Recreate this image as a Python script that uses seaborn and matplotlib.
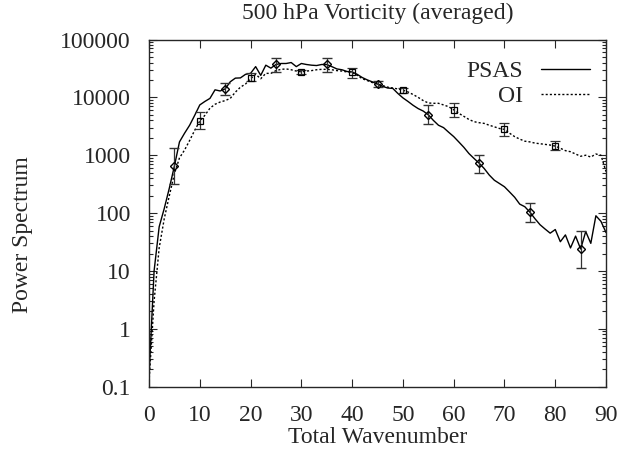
import numpy as np
import pandas as pd
import matplotlib
matplotlib.use('Agg')
import matplotlib.pyplot as plt
import matplotlib.ticker as mticker
import seaborn as sns

# wavenumber 0..90
wavenumber = list(range(91))

psas = [0.15, 10, 58, 120, 270, 650, 1700, 2400, 3300, 4900,
        7400, 8500, 9600, 13500, 12900, 14000, 18600, 21500, 21700, 25000,
        26000, 34000, 24000, 36000, 32000, 37000, 38500, 38500, 40000, 34000,
        38500, 37000, 36000, 35500, 37000, 37000, 34000, 31000, 30000, 28000,
        27500, 25000, 22000, 20000, 18500, 17000, 15500, 14500, 14300, 11700,
        9800, 8500, 7300, 6400, 5800, 5000, 4000, 3300, 3000, 2500,
        2100, 1700, 1370, 1070, 880, 730, 590, 455, 370, 325,
        285, 232, 188, 143, 129, 104, 80, 63, 53, 45,
        52, 32, 42, 25, 40, 24, 48, 30, 90, 72,
        46]

oi = [0.12, 3, 25, 80, 200, 480, 900, 1230, 1800, 2700,
      3900, 4900, 6500, 7600, 8300, 8800, 9600, 12300, 15000, 17000,
      21000, 25000, 21000, 26000, 26000, 29000, 30500, 31000, 30000, 28500,
      27500, 28500, 29000, 30000, 30500, 30500, 30000, 29000, 28500, 27500,
      27000, 24000, 21000, 19500, 18000, 17000, 16000, 15000, 14500, 14000,
      13300, 12400, 11200, 10000, 8800, 8000, 7900, 7900, 7400, 6900,
      6100, 5300, 4700, 4150, 3800, 3650, 3550, 3300, 3100, 2900,
      2800, 2400, 2100, 1900, 1750, 1700, 1620, 1580, 1540, 1500,
      1440, 1320, 1200, 1150, 1050, 960, 1000, 930, 1050, 1000,
      520]

# points with error bars
psas_k = [5, 15, 25, 35, 45, 55, 65, 75, 85]
psas_pt = [650, 14000, 37000, 37000, 17000, 5000, 730, 104, 24]
psas_hi = [1360, 17400, 47000, 48000, 19000, 7300, 1020, 148, 49]
psas_lo = [315, 11200, 27000, 27000, 14900, 3450, 500, 69, 11.4]

oi_k = [10, 20, 30, 40, 50, 60, 70, 80]
oi_pt = [3900, 22000, 27500, 27000, 13300, 6100, 2800, 1440]
oi_hi = [5500, 26000, 29500, 32000, 14800, 8000, 3650, 1750]
oi_lo = [2800, 19000, 25500, 21500, 12000, 4500, 2150, 1230]

yticks = [0.1, 1, 10, 100, 1000, 10000, 100000]
ytick_labels = ['0.1', '1', '10', '100', '1000', '10000', '100000']
xticks = [0, 10, 20, 30, 40, 50, 60, 70, 80, 90]

sns.set_style('ticks')
plt.rcParams['font.family'] = ['Liberation Serif', 'DejaVu Serif']
plt.rcParams['font.size'] = 17

df = pd.DataFrame({'k': wavenumber, 'PSAS': psas, 'OI': oi})

fig = plt.figure(figsize=(6.29, 4.51), dpi=100)
ax = fig.add_axes([0.2369, 0.1426, 0.7266, 0.7698])

sns.lineplot(data=df, x='k', y='PSAS', ax=ax, color='black', lw=1.0, label='PSAS')
sns.lineplot(data=df, x='k', y='OI', ax=ax, color='black', lw=1.0,
             linestyle=(0, (1.5, 1.5)), label='OI')

pt = np.array(psas_pt)
ax.errorbar(psas_k, pt, yerr=[pt - np.array(psas_lo), np.array(psas_hi) - pt],
            fmt='D', ms=4.5, mfc='none', mec='black', mew=1.0,
            ecolor='#333333', elinewidth=0.9, capsize=3.5, capthick=0.9)
pt = np.array(oi_pt)
ax.errorbar(oi_k, pt, yerr=[pt - np.array(oi_lo), np.array(oi_hi) - pt],
            fmt='s', ms=5, mfc='none', mec='black', mew=0.9,
            ecolor='#333333', elinewidth=0.9, capsize=3.5, capthick=0.9)

ax.set_yscale('log')
ax.set_xlim(0, 90)
ax.set_ylim(0.1, 100000)
ax.set_xticks(xticks)
ax.set_xticklabels([str(x) for x in xticks])
ax.yaxis.set_major_locator(mticker.FixedLocator(yticks))
ax.yaxis.set_major_formatter(mticker.FixedFormatter(ytick_labels))
ax.yaxis.set_minor_locator(mticker.LogLocator(base=10, subs=np.arange(2, 10)))
ax.yaxis.set_minor_formatter(mticker.NullFormatter())
ax.tick_params(which='both', direction='in', top=True, right=True, width=0.8)
ax.tick_params(which='major', length=6, labelsize=17)
ax.tick_params(axis='y', which='major', pad=13)
ax.tick_params(axis='x', which='major', pad=13)
ax.tick_params(which='minor', length=3)
for s in ax.spines.values():
    s.set_linewidth(1.0)

ax.set_title('500 hPa Vorticity (averaged)', fontsize=17, pad=15)
ax.set_xlabel('Total Wavenumber', fontsize=17, labelpad=1)
ax.set_ylabel('Power Spectrum', fontsize=17)
ax.yaxis.set_label_coords(-0.254, 0.437)

ax.legend(loc='upper right', bbox_to_anchor=(1.012, 1.0), frameon=False,
          markerfirst=False, handlelength=2.1, fontsize=17,
          labelspacing=0.15, handletextpad=0.75)

fig.savefig('out.png', dpi=100)
